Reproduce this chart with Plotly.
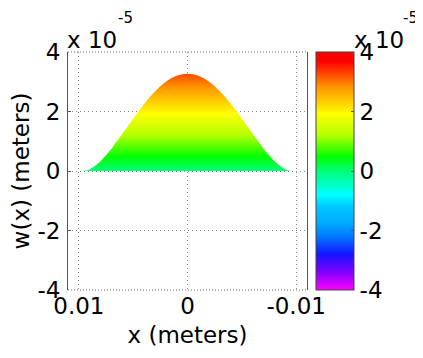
import plotly.graph_objects as go

# beam deflection (x in meters, w in units of 1e-5 m)
x_m = [0.0097, 0.0093, 0.009, 0.0085, 0.008, 0.0075, 0.007, 0.006, 0.005, 0.004, 0.003, 0.002, 0.001, 0.0,
       -0.001, -0.002, -0.003, -0.004, -0.005, -0.006, -0.007, -0.0075, -0.008, -0.0085, -0.009, -0.0093, -0.0097]
w_e5 = [0.0, 0.02, 0.06, 0.18, 0.33, 0.53, 0.75, 1.25, 1.76, 2.25, 2.67, 3.00, 3.20, 3.27,
        3.20, 3.00, 2.67, 2.25, 1.76, 1.25, 0.75, 0.53, 0.33, 0.18, 0.06, 0.02, 0.0]

x_ticks = [0.01, 0, -0.01]
x_tick_text = ["0.01", "0", "-0.01"]
y_ticks = [-4, -2, 0, 2, 4]
y_tick_text = ["-4", "-2", "0", "2", "4"]

cmin, cmax = -4, 4
colorscale = [
    [0.0, "rgb(255,0,255)"],
    [0.075, "rgb(128,0,255)"],
    [0.15, "rgb(20,20,255)"],
    [0.225, "rgb(0,120,255)"],
    [0.28, "rgb(0,170,255)"],
    [0.35, "rgb(0,200,255)"],
    [0.40, "rgb(0,255,255)"],
    [0.50, "rgb(0,255,120)"],
    [0.56, "rgb(0,255,0)"],
    [0.65, "rgb(180,255,0)"],
    [0.74, "rgb(255,255,0)"],
    [0.86, "rgb(255,140,0)"],
    [0.96, "rgb(255,0,0)"],
    [1.0, "rgb(255,0,0)"],
]

FONT = "DejaVu Sans, Liberation Sans, Arial, sans-serif"
FS = 23
OFF = 8  # page body margin of the html page
L, R, T, B = 68 - OFF, 307 - OFF, 52 - OFF, 290 - OFF
W, H = 423 - OFF, 358 - OFF

fig = go.Figure()
fig.add_trace(go.Scatter(
    x=x_m, y=w_e5, mode="lines", line=dict(width=0, shape="spline"),
    fill="tozeroy",
    fillgradient=dict(type="vertical", colorscale=colorscale, start=cmin, stop=cmax),
    hoverinfo="skip", showlegend=False,
))
fig.add_trace(go.Scatter(
    x=[None], y=[None], mode="markers",
    marker=dict(color=[0], colorscale=colorscale, cmin=cmin, cmax=cmax, showscale=True, size=0,
                colorbar=dict(
                    x=(316 - OFF - L) / (R - L), xanchor="left", xref="paper", y=0.5, yanchor="middle",
                    len=1, lenmode="fraction", thickness=38, thicknessmode="pixels",
                    outlinewidth=1, outlinecolor="#444",
                    tickvals=y_ticks, ticktext=y_tick_text,
                    ticks="inside", ticklen=3, tickcolor="#555",
                    tickfont=dict(family=FONT, size=FS, color="black"),
                    ticklabelposition="outside",
                    xpad=0, ypad=0,
                )),
    hoverinfo="skip", showlegend=False,
))

fig.update_layout(
    width=W, height=H,
    margin=dict(l=L, r=W - R, t=T, b=H - B, autoexpand=False),
    paper_bgcolor="white", plot_bgcolor="white",
    font=dict(family=FONT, size=FS, color="black"),
    xaxis=dict(
        range=[0.011, -0.011], tickvals=x_ticks, ticktext=x_tick_text,
        showgrid=True, gridcolor="#888", griddash="1px,3px", gridwidth=1,
        zeroline=False, showline=False, automargin=False,
        ticks="", ticklabelstandoff=0,
        tickfont=dict(size=FS),
        title=dict(text="x (meters)", standoff=8, font=dict(size=FS)),
    ),
    yaxis=dict(
        range=[-4, 4], tickvals=y_ticks, ticktext=y_tick_text,
        showgrid=True, gridcolor="#888", griddash="1px,3px", gridwidth=1,
        zeroline=False, showline=True, mirror=True, linecolor="#555", linewidth=1,
        ticks="inside", ticklen=3, tickcolor="#555", automargin=False,
        ticklabelstandoff=2,
        tickfont=dict(size=FS),
        title=dict(text="w(x) (meters)", standoff=4, font=dict(size=FS)),
    ),
)

# top and bottom dotted box edges (MATLAB grid at the limits)
for yv in (0, 1):
    fig.add_shape(type="line", xref="paper", yref="paper", x0=0, x1=1, y0=yv, y1=yv,
                  line=dict(color="#666", width=1, dash="1px,2px"))

def pix_ann(text, px, py, size):
    px -= OFF
    py -= OFF
    fig.add_annotation(text=text, x=(px - L) / (R - L), y=(B - py) / (B - T), xref="paper", yref="paper",
                       xanchor="left", yanchor="middle", showarrow=False,
                       font=dict(family=FONT, size=size, color="black"))

pix_ann("x 10", 65, 40, FS)
pix_ann("-5", 116, 18, 15)
pix_ann("x 10", 352, 40, FS)
pix_ann("-5", 401, 18, 15)

fig.write_html("out.html")
